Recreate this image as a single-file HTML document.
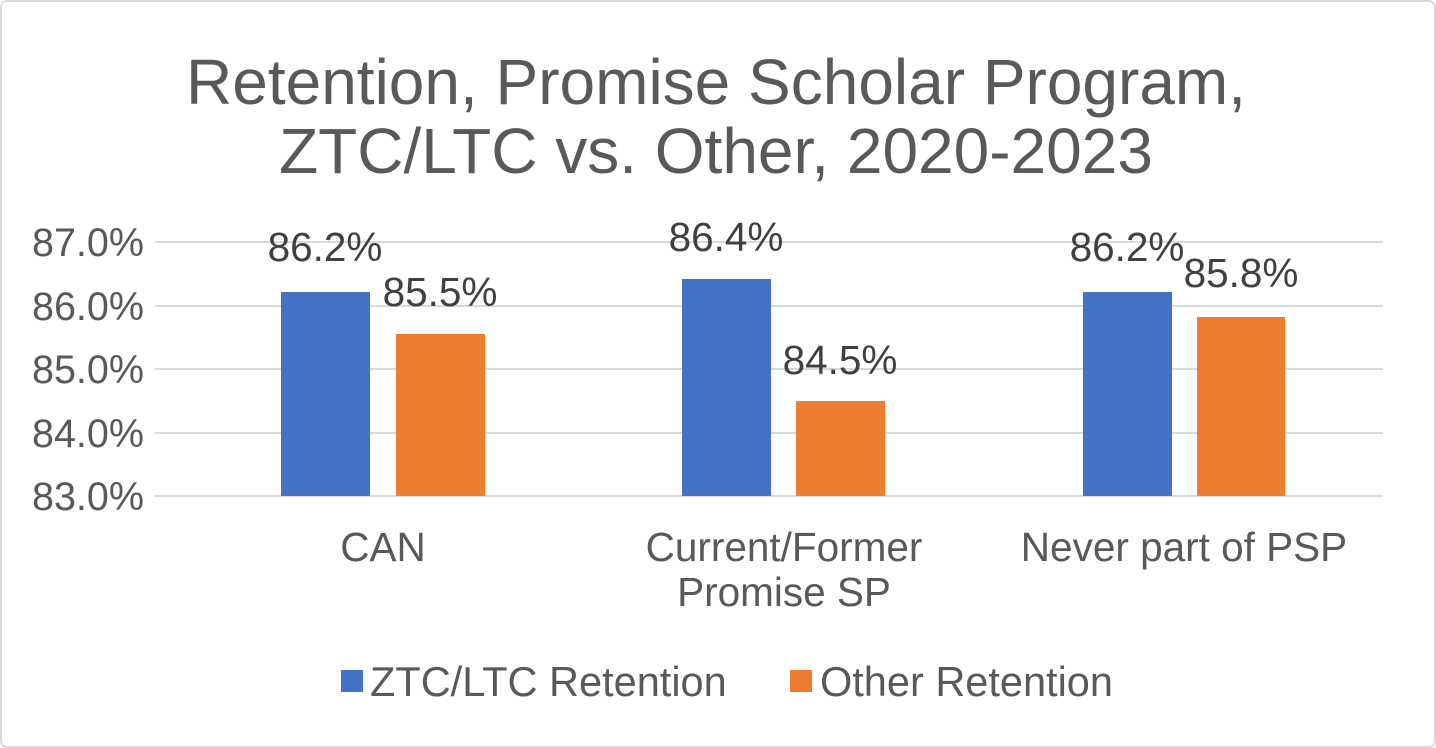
<!DOCTYPE html>
<html><head><meta charset="utf-8"><style>
html,body{margin:0;padding:0;background:#fff;}
svg{display:block;font-family:"Liberation Sans",Arial,sans-serif;}
</style></head><body>
<svg width="1436" height="748" viewBox="0 0 1436 748">
<rect x="1" y="1" width="1434" height="746" rx="6" fill="#fff" stroke="#d9d9d9" stroke-width="2"/>
<g fill="#595959" font-size="64" text-anchor="middle">
<text x="716" y="104">Retention, Promise Scholar Program,</text>
<text x="716" y="173">ZTC/LTC vs. Other, 2020-2023</text>
</g>
<g stroke="#d9d9d9" stroke-width="2">
<line x1="155" x2="1383" y1="242" y2="242"/>
<line x1="155" x2="1383" y1="306" y2="306"/>
<line x1="155" x2="1383" y1="369" y2="369"/>
<line x1="155" x2="1383" y1="433" y2="433"/>
<line x1="155" x2="1383" y1="496" y2="496"/>
</g>
<g fill="#595959" font-size="39.5" text-anchor="end">
<text x="144" y="256">87.0%</text>
<text x="144" y="320">86.0%</text>
<text x="144" y="383">85.0%</text>
<text x="144" y="447">84.0%</text>
<text x="144" y="510">83.0%</text>
</g>
<g fill="#4472c4">
<rect x="281" y="292" width="89" height="204"/>
<rect x="682" y="279" width="89" height="217"/>
<rect x="1083" y="292" width="89" height="204"/>
</g>
<g fill="#ed7d31">
<rect x="396" y="334" width="89" height="162"/>
<rect x="796" y="401" width="89" height="95"/>
<rect x="1197" y="317" width="88" height="179"/>
</g>
<g fill="#404040" font-size="40.5" text-anchor="middle">
<text x="325" y="261">86.2%</text>
<text x="440" y="306">85.5%</text>
<text x="726" y="251">86.4%</text>
<text x="840" y="374">84.5%</text>
<text x="1127" y="261">86.2%</text>
<text x="1241" y="287">85.8%</text>
</g>
<g fill="#595959" font-size="40.5" text-anchor="middle">
<text x="383" y="561">CAN</text>
<text x="784" y="561">Current/Former</text>
<text x="784" y="606">Promise SP</text>
<text x="1184" y="561">Never part of PSP</text>
</g>
<rect x="341" y="670" width="22" height="22" fill="#4472c4"/>
<text x="370" y="696" fill="#595959" font-size="41.5">ZTC/LTC Retention</text>
<rect x="790" y="670" width="22" height="22" fill="#ed7d31"/>
<text x="820" y="696" fill="#595959" font-size="41.5">Other Retention</text>
</svg>
</body></html>
